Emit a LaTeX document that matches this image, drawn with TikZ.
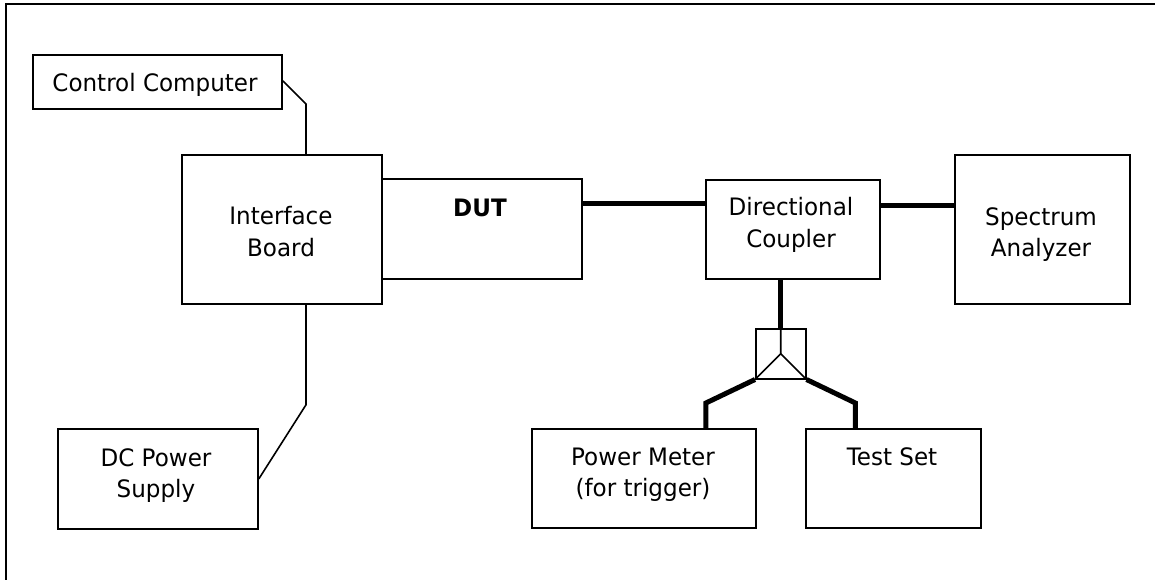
\documentclass[tikz,border=0pt]{standalone}
\usepackage{fontspec}
\setmainfont{DejaVu Sans}[FakeStretch=0.96]
\begin{document}
\begin{tikzpicture}[x=1pt,y=-1pt,
  box/.style={draw=black,line width=1.8pt,rectangle,inner sep=0pt,anchor=north west},
  lbl/.style={inner sep=0pt,anchor=base,font=\fontsize{24}{32}\selectfont},
  wire/.style={draw=black,line width=1.6pt},
  rf/.style={draw=black,line width=5pt},
  frame/.style={draw=black,line width=2pt}]
\useasboundingbox (0,0) rectangle (1155,580);
\draw[frame] (6,580) -- (6,4) -- (1156,4);
% boxes
\node[box,minimum width=249pt,minimum height=54pt] (cc) at (32,54) {};
\node[box,minimum width=200pt,minimum height=149pt] (ib) at (181,154) {};
\node[box,minimum width=200pt,minimum height=100pt] (dut) at (381,178) {};
\node[box,minimum width=174pt,minimum height=99pt] (dc) at (705,179) {};
\node[box,minimum width=175pt,minimum height=149pt] (sa) at (954,154) {};
\node[box,minimum width=200pt,minimum height=100pt] (dcps) at (57,428) {};
\node[box,minimum width=224pt,minimum height=99pt] (pm) at (531,428) {};
\node[box,minimum width=175pt,minimum height=99pt] (ts) at (805,428) {};
\node[box,line width=1.5pt,minimum width=50pt,minimum height=50pt] (sp) at (755,328) {};
% labels
\node[lbl] (ccT) at (155,92) {Control Computer};
\node[lbl] (ibT1) at (281,224) {Interface};
\node[lbl] (ibT2) at (281,256) {Board};
\node[lbl,font=\fontsize{24}{32}\selectfont\bfseries] (dutT) at (480,216) {DUT};
\node[lbl] (dcT1) at (791,215) {Directional};
\node[lbl] (dcT2) at (791,247) {Coupler};
\node[lbl] (saT1) at (1041,225) {Spectrum};
\node[lbl] (saT2) at (1041,256) {Analyzer};
\node[lbl] (dcpsT1) at (156,466) {DC Power};
\node[lbl] (dcpsT2) at (156,497) {Supply};
\node[lbl] (pmT1) at (643,465) {Power Meter};
\node[lbl] (pmT2) at (643,496) {(for trigger)};
\node[lbl] (tsT) at (892,465) {Test Set};
% connectors
\draw[wire] ([yshift=1pt]cc.east) -- ([xshift=125pt,yshift=50pt]ib.north west) -- ([xshift=125pt]ib.north west);
\draw[wire] ([xshift=125pt]ib.south west) -- ++(0,100) -- (dcps.east);
\draw[rf] ([yshift=25pt]dut.east) -- ([yshift=25pt]dut.east -| dc.west);
\draw[rf] ([yshift=24pt]dc.east) -- ([yshift=24pt]dc.east -| sa.west);
\draw[rf] (sp.north |- dc.south) -- (sp.north);
\draw[wire] (sp.north) -- (sp.center) -- (sp.south west);
\draw[wire] (sp.center) -- (sp.south east);
\draw[rf,line join=miter] (sp.south west) -- ([xshift=62pt,yshift=25pt]pm.north) -- ([xshift=62pt]pm.north);
\draw[rf,line join=miter] (sp.south east) -- ([xshift=-38pt,yshift=25pt]ts.north) -- ([xshift=-38pt]ts.north);
\end{tikzpicture}
\end{document}
